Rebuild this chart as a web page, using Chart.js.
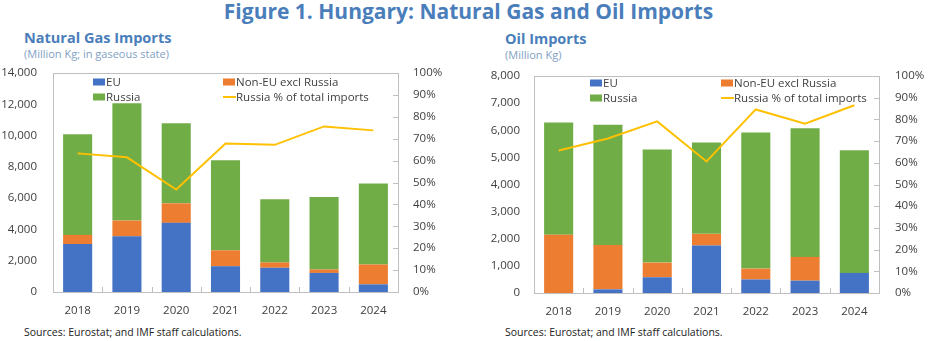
<!DOCTYPE html>
<html>
<head>
<meta charset="utf-8">
<script src="https://cdn.jsdelivr.net/npm/chart.js@4.4.1/dist/chart.umd.min.js"></script>
<style>
  body { margin: 0; width: 937px; height: 341px; background: #fff; position: relative; overflow: hidden; font-family: "Open Sans", "Noto Sans", sans-serif; }
  .abs { position: absolute; white-space: nowrap; }
  #title { left: 0; width: 937px; top: -3px; text-align: center; font-size: 21px; font-weight: bold; color: #4a7ebb; }
  .head { font-size: 14.5px; font-weight: bold; color: #4a7ebb; }
  .unit { font-size: 11px; color: #7f9fc4; }
  .src { font-size: 10.5px; color: #222; }
  canvas { position: absolute; }
</style>
</head>
<body>
<div id="title" class="abs">Figure 1. Hungary: Natural Gas and Oil Imports</div>

<div class="abs head" style="left:24px; top:28px;">Natural Gas Imports</div>
<div class="abs unit" style="left:24px; top:46px;">(Million Kg; in gaseous state)</div>
<div class="abs head" style="left:505px; top:29px;">Oil Imports</div>
<div class="abs unit" style="left:505px; top:47px;">(Million Kg)</div>

<canvas id="gasChart" style="left:0; top:54px;"></canvas>
<canvas id="oilChart" style="left:470px; top:56px;"></canvas>

<div class="abs src" style="left:24px; top:325px;">Sources: Eurostat; and IMF staff calculations.</div>
<div class="abs src" style="left:505px; top:325px;">Sources: Eurostat; and IMF staff calculations.</div>

<script>
// 📅 Years
const years = ['2018', '2019', '2020', '2021', '2022', '2023', '2024'];

// 🔥 Natural gas imports (million kg)
const gasEU = [3070, 3560, 4420, 1650, 1550, 1220, 490];
const gasNonEU = [580, 1010, 1250, 1010, 340, 220, 1270];
const gasRussia = [6440, 7500, 5110, 5760, 4040, 4640, 5180];
const gasRussiaShare = [63.3, 61.5, 46.8, 67.8, 67.2, 75.6, 73.8];

// 🛢️ Oil imports (million kg)
const oilEU = [0, 135, 580, 1750, 500, 455, 740];
const oilNonEU = [2150, 1635, 540, 430, 400, 875, 0];
const oilRussia = [4140, 4430, 4170, 3370, 5020, 4740, 4520];
const oilRussiaShare = [65.7, 71.2, 79.1, 60.6, 84.6, 78.0, 86.5];

const seriesNames = ['EU', 'Non-EU excl Russia', 'Russia', 'Russia % of total imports'];
const colors = ['#4472c4', '#ed7d31', '#70ad47', '#ffc000'];

const FONT = '"Open Sans", "Noto Sans", sans-serif';
const TEXT = '#404040';

// 🖼️ Box, inner tick marks and two-column legend
const decoPlugin = {
  id: 'deco',
  afterDatasetsDraw(chart, args, opts) {
    const { ctx, chartArea: a } = chart;
    const x = chart.scales.x;
    const y1 = chart.scales.y1;
    ctx.save();
    ctx.strokeStyle = '#bfbfbf';
    ctx.lineWidth = 1;
    ctx.strokeRect(Math.round(a.left) + 0.5, Math.round(a.top) + 0.5,
      Math.round(a.right - a.left), Math.round(a.bottom - a.top));

    // x ticks between categories
    const step = (x.getPixelForValue(1) - x.getPixelForValue(0));
    ctx.beginPath();
    for (let i = 0; i < years.length - 1; i++) {
      const px = Math.round(x.getPixelForValue(i) + step / 2) + 0.5;
      ctx.moveTo(px, a.bottom);
      ctx.lineTo(px, a.bottom - 5);
    }
    // right axis ticks
    for (let v = 10; v < 100; v += 10) {
      const py = Math.round(y1.getPixelForValue(v)) + 0.5;
      ctx.moveTo(a.right, py);
      ctx.lineTo(a.right - 5, py);
    }
    ctx.stroke();

    // legend
    ctx.font = '11.5px ' + FONT;
    ctx.textBaseline = 'middle';
    ctx.fillStyle = TEXT;
    chart.data.datasets.forEach((ds, i) => {
      const lx = a.left + (i % 2 === 0 ? opts.col1 : opts.col2);
      const ly = a.top + (i < 2 ? opts.row1 : opts.row2);
      if (ds.type === 'line') {
        ctx.strokeStyle = ds.borderColor;
        ctx.lineWidth = 2;
        ctx.beginPath();
        ctx.moveTo(lx, ly);
        ctx.lineTo(lx + 13, ly);
        ctx.stroke();
      } else {
        ctx.fillStyle = ds.backgroundColor;
        ctx.fillRect(lx, ly - 3.5, 12, 7);
      }
      ctx.fillStyle = TEXT;
      ctx.fillText(ds.label, lx + 13, ly + 0.5);
    });
    ctx.restore();
  }
};

function makeChart(id, w, h, eu, nonEU, russia, share, yMax, yStep, layout) {
  const canvas = document.getElementById(id);
  canvas.width = w;
  canvas.height = h;
  canvas.style.width = w + 'px';
  canvas.style.height = h + 'px';

  const barSets = [eu, nonEU, russia].map((d, i) => ({
    type: 'bar',
    label: seriesNames[i],
    data: d,
    backgroundColor: colors[i],
    stack: 's',
    yAxisID: 'y',
    order: 1,
    barPercentage: 0.59,
    categoryPercentage: 1
  }));

  new Chart(canvas.getContext('2d'), {
    data: {
      labels: years,
      datasets: [...barSets, {
        type: 'line',
        label: seriesNames[3],
        data: share,
        borderColor: colors[3],
        borderWidth: 2,
        pointRadius: 0,
        tension: 0,
        yAxisID: 'y1',
        order: 0
      }]
    },
    options: {
      responsive: false,
      animation: false,
      layout: { padding: { top: layout.top, left: 0, right: 0, bottom: 0 } },
      plugins: {
        legend: { display: false },
        tooltip: { enabled: false },
        deco: layout.legend
      },
      scales: {
        x: {
          stacked: true,
          grid: { display: false },
          border: { display: false },
          ticks: { color: TEXT, font: { family: FONT, size: 11.5 }, padding: 4, maxRotation: 0 },
          afterFit: s => { s.height = layout.xh; }
        },
        y: {
          stacked: true,
          min: 0, max: yMax,
          grid: { display: false },
          border: { display: false },
          ticks: {
            stepSize: yStep, color: TEXT, padding: layout.lpad,
            font: { family: FONT, size: 11.5 },
            callback: v => v.toLocaleString('en-US')
          },
          afterFit: s => { s.width = layout.lw; }
        },
        y1: {
          position: 'right',
          min: 0, max: 100,
          grid: { display: false },
          border: { display: false },
          ticks: {
            stepSize: 10, color: TEXT, padding: layout.rpad,
            font: { family: FONT, size: 11.5 },
            callback: v => v + '%'
          },
          afterFit: s => { s.width = layout.rw; }
        }
      }
    },
    plugins: [decoPlugin]
  });
}

// 🚀 Draw both panels
makeChart('gasChart', 470, 269, gasEU, gasNonEU, gasRussia, gasRussiaShare, 14000, 2000,
  { top: 19, xh: 31, lw: 53, rw: 72, lpad: 8, rpad: 7,
    legend: { col1: 40, col2: 170, row1: 9, row2: 24 } });

makeChart('oilChart', 467, 267, oilEU, oilNonEU, oilRussia, oilRussiaShare, 8000, 1000,
  { top: 20, xh: 30, lw: 64, rw: 58, lpad: 6, rpad: 8,
    legend: { col1: 56, col2: 187, row1: 7, row2: 22 } });
</script>
</body>
</html>
